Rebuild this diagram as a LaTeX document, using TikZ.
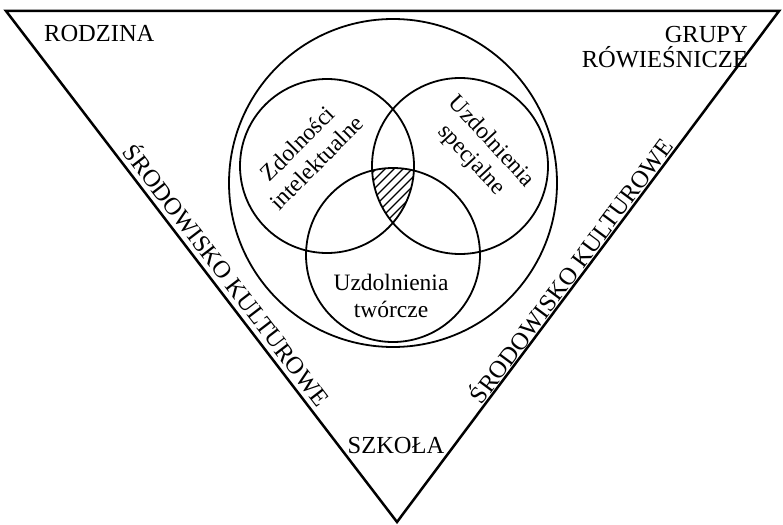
\documentclass[tikz,border=0pt]{standalone}
\usepackage{fontspec}
\setmainfont{Liberation Serif}
\begin{document}
\begin{tikzpicture}[x=1pt,y=-1pt,
  edge/.style={line width=2.5pt,line join=miter},
  ring/.style={line width=1.8pt},
  lbl/.style={inner sep=0pt,font=\fontsize{24.5}{24.5}\selectfont},
  inlbl/.style={inner sep=0pt,align=center,font=\fontsize{23.5}{27}\selectfont},
  hatch/.style={line width=1.3pt}]
\useasboundingbox (0,0) rectangle (783,524);
% triangle
\coordinate (tl) at (6,11);
\coordinate (tr) at (779,11);
\coordinate (bt) at (397,522);
\draw[edge] (tl) -- (tr) -- (bt) -- cycle;
% circles
\coordinate (big) at (393,183);
\coordinate (ca) at (327,166);
\coordinate (cb) at (460,166);
\coordinate (cc) at (393,255);
\draw[ring] (big) circle (164);
\draw[ring] (ca) circle (87);
\draw[ring] (cb) circle (88);
\draw[ring] (cc) circle (87);
% hatched intersection
\begin{scope}
  \clip (ca) circle (87);
  \clip (cb) circle (88);
  \clip (cc) circle (87);
  \foreach \c in {500,509,...,680} {
    \draw[hatch] (\c-100,100) -- (\c-300,300);
  }
\end{scope}
% labels
\node[lbl,anchor=base west] (rodzina) at (44,42) {RODZINA};
\node[lbl,align=right,anchor=east] (grupy) at (748,47) {GRUPY\\RÓWIEŚNICZE};
\node[lbl,anchor=base] (szkola) at (396,453) {SZKOŁA};
\node[lbl,rotate=-52.6] (srl) at (228,274) {ŚRODOWISKO KULTUROWE};
\node[lbl,rotate=53.3] (srr) at (570,270) {ŚRODOWISKO KULTUROWE};
\node[inlbl,rotate=45] (zi) at (307,153) {Zdolności\\intelektualne};
\node[inlbl,rotate=-47] (us) at (481,151) {Uzdolnienia\\specjalne};
\node[inlbl] (ut) at (391,296) {Uzdolnienia\\twórcze};
\end{tikzpicture}
\end{document}
